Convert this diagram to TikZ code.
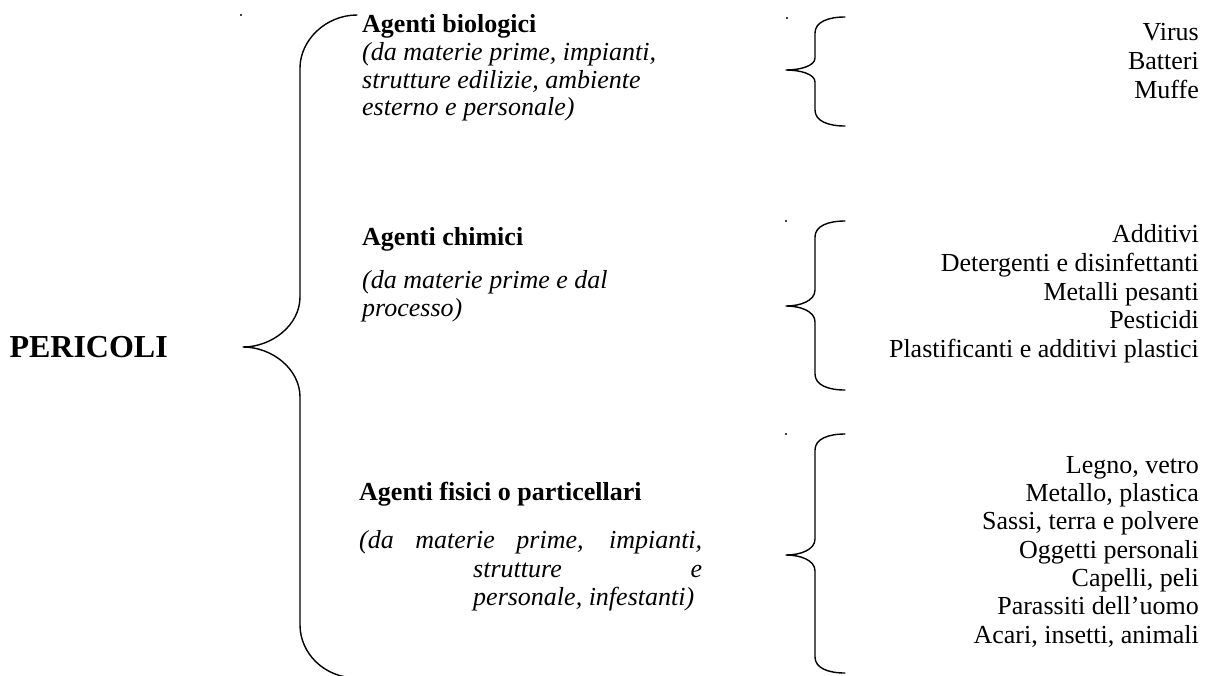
\documentclass[tikz,border=0pt]{standalone}
\usepackage{fontspec}
\setmainfont{Liberation Serif}
\begin{document}
\begin{tikzpicture}[x=1pt,y=-1pt,
  bracestyle/.style={line width=1.4pt, line cap=round, line join=round},
  txt/.style={inner sep=0pt, font=\fontsize{26}{28}\selectfont},
  head/.style={txt, font=\fontsize{26}{28}\selectfont\bfseries, anchor=base west},
  ital/.style={txt, font=\fontsize{26}{28}\selectfont\itshape, anchor=base west},
  item/.style={txt, anchor=base east},
  dotmark/.style={fill=black}]
\useasboundingbox (0,0) rectangle (1212,675);

% main brace
\draw[bracestyle] (357,15) .. controls (326,15) and (300,40) .. (300,68)
  -- (300,297) .. controls (300,325) and (272,347) .. (243,347)
  .. controls (272,347) and (300,369) .. (300,397)
  -- (300,625) .. controls (300,653) and (324,678) .. (357,678);

% small braces
\draw[bracestyle] (845,17) .. controls (828,17) and (815,22) .. (815,33)
  -- (815,58) .. controls (815,66) and (800,70) .. (786,70)
  .. controls (800,70) and (815,74) .. (815,82)
  -- (815,110) .. controls (815,121) and (828,126) .. (845,126);
\draw[bracestyle] (845,221) .. controls (828,221) and (815,226) .. (815,237)
  -- (815,290) .. controls (815,301) and (800,306) .. (786,306)
  .. controls (800,306) and (815,311) .. (815,322)
  -- (815,374) .. controls (815,385) and (828,390) .. (845,390);
\draw[bracestyle] (845,434) .. controls (828,434) and (815,439) .. (815,450)
  -- (815,539) .. controls (815,550) and (800,555) .. (786,555)
  .. controls (800,555) and (815,560) .. (815,571)
  -- (815,657) .. controls (815,668) and (828,673) .. (845,673);

% stray dots
\fill[dotmark] (241,15) circle (1.2);
\fill[dotmark] (787,18) circle (1.2);
\fill[dotmark] (786,221) circle (1.2);
\fill[dotmark] (786,434) circle (1.2);

% root
\node[txt, font=\fontsize{32}{34}\selectfont\bfseries, anchor=base east] (root) at (168,357) {PERICOLI};

% biological
\node[head] (bio) at (362,32) {Agenti biologici};
\node[ital] (bio1) at (362,60) {(da materie prime, impianti,};
\node[ital] (bio2) at (362,88) {strutture edilizie, ambiente};
\node[ital] (bio3) at (362,115) {esterno e personale)};

% chemical
\node[head] (chi) at (362,245) {Agenti chimici};
\node[ital] (chi1) at (362,288) {(da materie prime e dal};
\node[ital] (chi2) at (362,316) {processo)};

% physical
\node[head] (fis) at (359,500) {Agenti fisici o particellari};
\node[ital] (fis1) at (359,548) {\makebox[343pt][s]{(da materie prime, impianti,}};
\node[ital] (fis2) at (473,577) {\makebox[229pt][s]{strutture e}};
\node[ital] (fis3) at (473,605) {personale, infestanti)};

% right column
\node[item] (v1) at (1199,40) {Virus};
\node[item] (v2) at (1199,69) {Batteri};
\node[item] (v3) at (1199,98) {Muffe};

\node[item] (c1) at (1199,242) {Additivi};
\node[item] (c2) at (1199,271) {Detergenti e disinfettanti};
\node[item] (c3) at (1199,300) {Metalli pesanti};
\node[item] (c4) at (1199,328) {Pesticidi};
\node[item] (c5) at (1199,357) {Plastificanti e additivi plastici};

\node[item] (f1) at (1199,473) {Legno, vetro};
\node[item] (f2) at (1199,501) {Metallo, plastica};
\node[item] (f3) at (1199,529) {Sassi, terra e polvere};
\node[item] (f4) at (1199,558) {Oggetti personali};
\node[item] (f5) at (1199,586) {Capelli, peli};
\node[item] (f6) at (1199,614) {Parassiti dell’uomo};
\node[item] (f7) at (1199,643) {Acari, insetti, animali};
\end{tikzpicture}
\end{document}
